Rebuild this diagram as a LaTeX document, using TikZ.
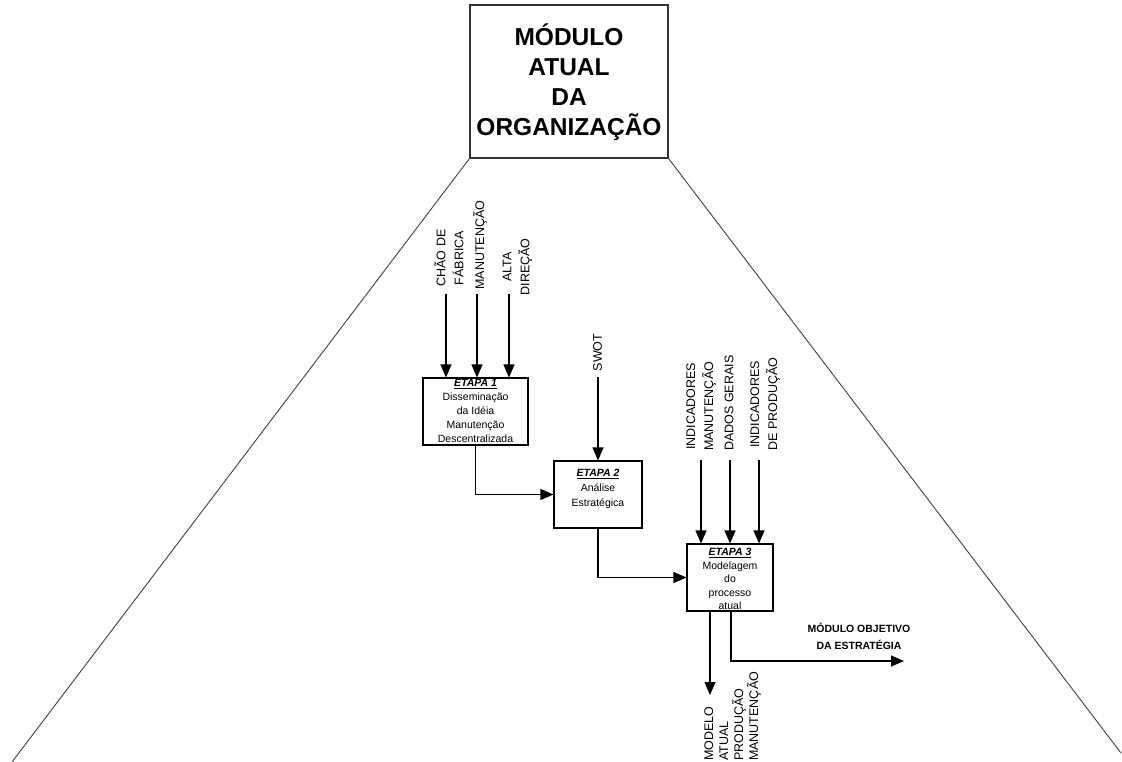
\documentclass[tikz,border=0pt]{standalone}
\usepackage{fontspec}
\setmainfont{Liberation Sans}
\usetikzlibrary{arrows.meta}

\tikzset{
  stagebox/.style={draw=black, line width=1.1pt, inner sep=0pt},
  stagetext/.style={inner sep=0pt, align=center, font=\fontsize{10.5}{14}\selectfont},
  flow/.style={line width=1.1pt, -{Triangle[length=13pt,width=11pt]}},
  plainflow/.style={line width=1.1pt},
  vlabel/.style={rotate=90, inner sep=0pt, align=center, font=\fontsize{12.5}{18}\selectfont},
  outline/.style={draw=black!75, line width=0.9pt},
}

\newcommand{\stagehead}[1]{\underline{\textbf{\textit{#1}}}}

\begin{document}
\begin{tikzpicture}[x=1pt, y=-1pt]
  \useasboundingbox (0,0) rectangle (1122,762);

  % organisation module at the apex
  \node[draw=black!80, line width=1.2pt, minimum width=198pt, minimum height=153pt, inner sep=0pt] (org) at (569,81.5) {};
  \node[inner sep=0pt, align=center, font=\fontsize{24.5}{30}\selectfont\bfseries] (orgtext) at (569,82)
    {MÓDULO\\ATUAL\\DA\\ORGANIZAÇÃO};

  % sides of the pyramid
  \coordinate (baseL) at (12,762);
  \coordinate (baseR) at (1121,753);
  \draw[outline] (org.south west) -- (baseL);
  \draw[outline] (org.south east) -- (baseR);

  % stage boxes
  \node[stagebox, minimum width=105pt, minimum height=67pt] (e1) at (475.5,411.5) {};
  \node[stagebox, minimum width=88pt, minimum height=67pt] (e2) at (598,494.5) {};
  \node[stagebox, minimum width=86pt, minimum height=67pt] (e3) at (730,577.5) {};

  \node[stagetext, anchor=north] (e1text) at (475.5,379)
    {\stagehead{ETAPA 1}\\Disseminação\\da Idéia\\Manutenção\\Descentralizada};
  \node[stagetext, anchor=north, font=\fontsize{10.5}{15}\selectfont] (e2text) at (598,469)
    {\stagehead{ETAPA 2}\\Análise\\Estratégica};
  \node[stagetext, anchor=north, font=\fontsize{10.5}{13.5}\selectfont] (e3text) at (730,548)
    {\stagehead{ETAPA 3}\\Modelagem\\do\\processo\\atual};

  % inputs of stage 1
  \node[vlabel] (lchao) at (449,258) {CHÃO DE\\FÁBRICA};
  \node[vlabel] (lmanut) at (480,245) {MANUTENÇÃO};
  \node[vlabel] (lalta) at (517.5,267) {ALTA\\DIREÇÃO};
  \coordinate (i1) at (446,294);
  \coordinate (i2) at (477,294);
  \coordinate (i3) at (509,294);
  \draw[flow] (i1) -- (i1 |- e1.north);
  \draw[flow] (i2) -- (i2 |- e1.north);
  \draw[flow] (i3) -- (i3 |- e1.north);

  % input of stage 2
  \node[vlabel] (lswot) at (597.5,352.5) {SWOT};
  \coordinate (iswot) at (598,377);
  \draw[flow] (iswot) -- (iswot |- e2.north);

  % inputs of stage 3
  \node[vlabel, anchor=west] (lindm) at (701,451) {INDICADORES\\MANUTENÇÃO};
  \node[vlabel, anchor=west] (ldados) at (729,451) {DADOS GERAIS};
  \node[vlabel, anchor=west] (lindp) at (765,451) {INDICADORES\\DE PRODUÇÃO};
  \coordinate (j1) at (701,460);
  \coordinate (j2) at (730,460);
  \coordinate (j3) at (759,460);
  \draw[flow] (j1) -- (j1 |- e3.north);
  \draw[flow] (j2) -- (j2 |- e3.north);
  \draw[flow] (j3) -- (j3 |- e3.north);

  % flow between stages
  \draw[flow] (e1.south) |- (e2.west);
  \draw[flow] (e2.south) |- (e3.west);

  % outputs of stage 3
  \coordinate (omodel) at (710,695);
  \draw[flow] (omodel |- e3.south) -- (omodel);
  \node[vlabel, anchor=west, align=left, font=\fontsize{12.5}{15}\selectfont] (lmodel) at (732.5,761)
    {MODELO\\ATUAL\\PRODUÇÃO\\MANUTENÇÃO};

  \coordinate (obend) at (731,661);
  \coordinate (oobj) at (904,661);
  \draw[flow] (obend |- e3.south) -- (obend) -- (oobj);
  \node[inner sep=0pt, align=center, font=\fontsize{10.5}{17}\selectfont\bfseries] (lobj) at (859,636)
    {MÓDULO OBJETIVO\\DA ESTRATÉGIA};
\end{tikzpicture}
\end{document}
